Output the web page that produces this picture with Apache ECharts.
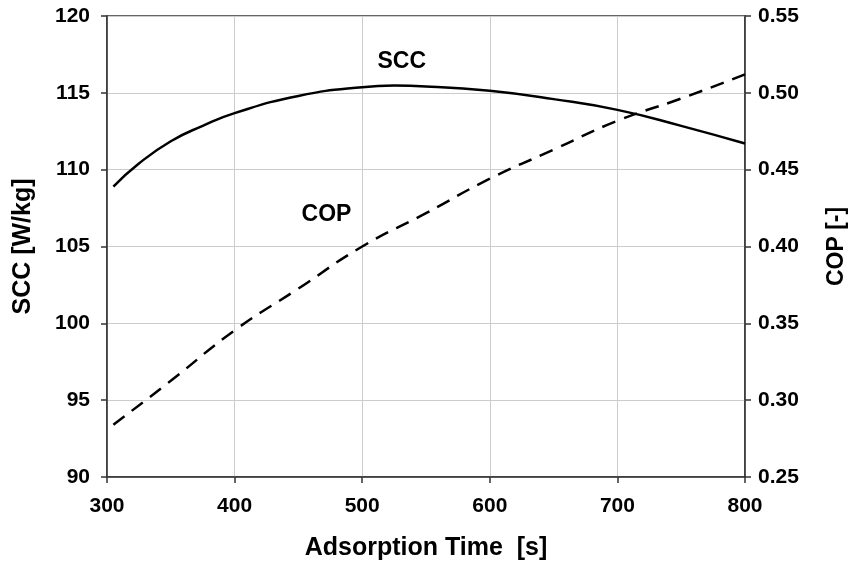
<!DOCTYPE html>
<html>
<head>
<meta charset="utf-8">
<script src="https://cdn.jsdelivr.net/npm/echarts@6/dist/echarts.min.js"></script>
<style>
  html, body { margin: 0; padding: 0; background: #fff; }
  #chart { width: 850px; height: 565px; }
</style>
</head>
<body>
<div id="chart"></div>
<script>
// values
var sccTime = [305, 325, 350, 375, 400, 450, 500, 525, 550, 600, 650, 700, 750, 800];
var sccValue = [108.9, 110.4, 111.85, 112.85, 113.68, 114.8, 115.37, 115.47, 115.42, 115.13, 114.59, 113.89, 112.85, 111.7];
var copTime = [305, 350, 400, 450, 500, 550, 600, 650, 700, 750, 800];
var copValue = [0.284, 0.3126, 0.3454, 0.3726, 0.400, 0.4217, 0.4441, 0.463, 0.4818, 0.4963, 0.512];
var sccLabelAt = [531, 117.0];
var copLabelAt = [472, 0.4204];

var font = "'Liberation Sans', Arial, sans-serif";
var chart = echarts.init(document.getElementById('chart'));

function pairs(xs, ys) {
    return xs.map(function (x, i) { return [x, ys[i]]; });
}

function tag(text, at) {
    return {
        symbol: 'circle',
        symbolSize: 0,
        silent: true,
        label: {
            show: true,
            position: 'inside',
            formatter: text,
            color: '#000',
            fontFamily: font,
            fontWeight: 'bold',
            fontSize: 23
        },
        data: [{ coord: at }]
    };
}

function labels(extra) {
    return Object.assign({ color: '#000', fontFamily: font, fontWeight: 'bold', fontSize: 21 }, extra);
}
function title(size) {
    return { color: '#000', fontFamily: font, fontWeight: 'bold', fontSize: size };
}
var axisLine = { show: true, lineStyle: { color: '#333', width: 1.5 } };
var axisTick = { show: true, length: 6, lineStyle: { color: '#333', width: 1.5 } };

chart.setOption({
    animation: false,
    backgroundColor: '#fff',
    grid: {
        left: 107,
        right: 105,
        top: 16,
        bottom: 88,
        outerBoundsMode: 'none',
        show: true,
        borderColor: '#333',
        borderWidth: 1.5
    },
    xAxis: {
        type: 'value',
        min: 300,
        max: 800,
        interval: 100,
        name: 'Adsorption Time  [s]',
        nameLocation: 'middle',
        nameGap: 59,
        nameTextStyle: title(25),
        axisLine: axisLine,
        axisTick: axisTick,
        axisLabel: labels({ margin: 19 }),
        splitLine: { show: true, lineStyle: { color: '#ccc', width: 1 } }
    },
    yAxis: [{
        type: 'value',
        min: 90,
        max: 120,
        interval: 5,
        name: 'SCC [W/kg]',
        nameLocation: 'middle',
        nameGap: 71,
        nameTextStyle: title(25),
        axisLine: axisLine,
        axisTick: axisTick,
        axisLabel: labels({ margin: 17 }),
        splitLine: { show: true, lineStyle: { color: '#ccc', width: 1 } }
    }, {
        type: 'value',
        min: 0.25,
        max: 0.55,
        interval: 0.05,
        name: 'COP [-]',
        nameLocation: 'middle',
        nameGap: 80,
        nameTextStyle: title(23),
        axisLine: axisLine,
        axisTick: axisTick,
        axisLabel: labels({ margin: 13, formatter: function (v) { return v.toFixed(2); } }),
        splitLine: { show: false }
    }],
    series: [{
        name: 'SCC',
        type: 'line',
        yAxisIndex: 0,
        smooth: true,
        showSymbol: false,
        lineStyle: { color: '#000', width: 2.5 },
        data: pairs(sccTime, sccValue),
        markPoint: tag('SCC', sccLabelAt)
    }, {
        name: 'COP',
        type: 'line',
        yAxisIndex: 1,
        smooth: true,
        showSymbol: false,
        lineStyle: { color: '#000', width: 2.5, type: [14, 9] },
        data: pairs(copTime, copValue),
        markPoint: tag('COP', copLabelAt)
    }]
});
</script>
</body>
</html>
